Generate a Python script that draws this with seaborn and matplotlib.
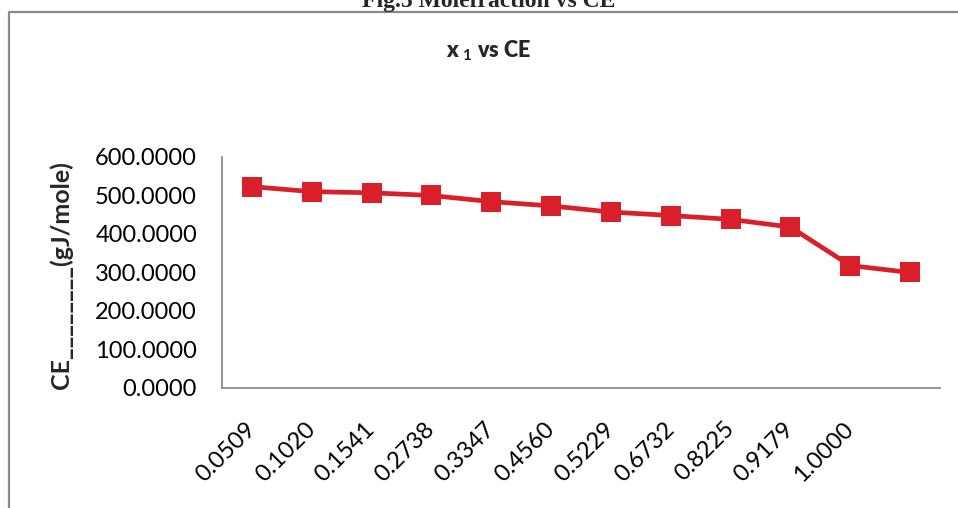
import matplotlib
matplotlib.use("Agg")
import matplotlib.pyplot as plt
from matplotlib.lines import Line2D
from matplotlib.ticker import FuncFormatter, MultipleLocator
import seaborn as sns
import pandas as pd

# ---- data ----
x_labels = ["0.0509", "0.1020", "0.1541", "0.2738", "0.3347", "0.4560",
            "0.5229", "0.6732", "0.8225", "0.9179", "1.0000", ""]
ce_values = [523, 510, 507, 500, 484, 473, 457, 448, 438, 418, 318, 300]

df = pd.DataFrame({"idx": list(range(len(ce_values))), "ce": ce_values})

sns.set_style("white")
plt.rcParams["font.family"] = ["Lato", "DejaVu Sans"]
plt.rcParams["mathtext.fontset"] = "custom"
plt.rcParams["mathtext.rm"] = "Lato:bold"
plt.rcParams["mathtext.it"] = "Lato:bold"
plt.rcParams["mathtext.bf"] = "Lato:bold"

W, H = 958, 508
fig = plt.figure(figsize=(W / 100, H / 100), dpi=100)
ax = fig.add_axes([222 / W, 1 - 388 / H, (940 - 222) / W, (388 - 157) / H])

red = "#D91F29"
sns.lineplot(data=df, x="idx", y="ce", ax=ax, color=red, linewidth=3.4,
             marker="s", markersize=14, markeredgecolor=red, markeredgewidth=0)

ax.set_xlim(-0.5, len(ce_values) - 0.5)
ax.set_ylim(0, 600)
ax.yaxis.set_major_locator(MultipleLocator(100))
ax.yaxis.set_major_formatter(FuncFormatter(lambda v, p: f"{v:.4f}"))
ax.set_xticks(range(len(x_labels)))
ax.set_xticklabels(x_labels)

for s in ["top", "right"]:
    ax.spines[s].set_visible(False)
for s in ["left", "bottom"]:
    ax.spines[s].set_color("#8C8C8C")
    ax.spines[s].set_linewidth(1.3)

ax.tick_params(axis="y", length=0, pad=18, labelsize=17, labelcolor="black")
ax.tick_params(axis="x", length=0, pad=27, labelsize=17, labelcolor="black")
for lbl in ax.get_xticklabels():
    lbl.set_rotation(45)
    lbl.set_ha("right")
    lbl.set_va("center")
    lbl.set_rotation_mode("anchor")

ax.set_xlabel("")
ax.set_ylabel("CE________(gJ/mole)", fontsize=18, fontweight="bold")
ax.yaxis.set_label_coords(-0.207, 0.49)

# chart title
fig.text(489 / W, 1 - 51 / H, r"x $_{1}$ vs CE", ha="center", va="center",
         fontsize=15.5, fontweight="heavy")

# outer caption (cut off at top)
fig.text(489 / W, 1 - 7 / H, "Fig.5 Molefraction vs CE", ha="center",
         va="baseline", fontsize=17, fontweight="bold",
         family=["Liberation Serif", "DejaVu Serif"])

# outer chart frame
fig.add_artist(Line2D([9 / W, 9 / W, 1.01], [-0.01, 1 - 12 / H, 1 - 12 / H],
                      transform=fig.transFigure, color="#8A8A8A", linewidth=1.6))

fig.savefig("out.png", dpi=100)
